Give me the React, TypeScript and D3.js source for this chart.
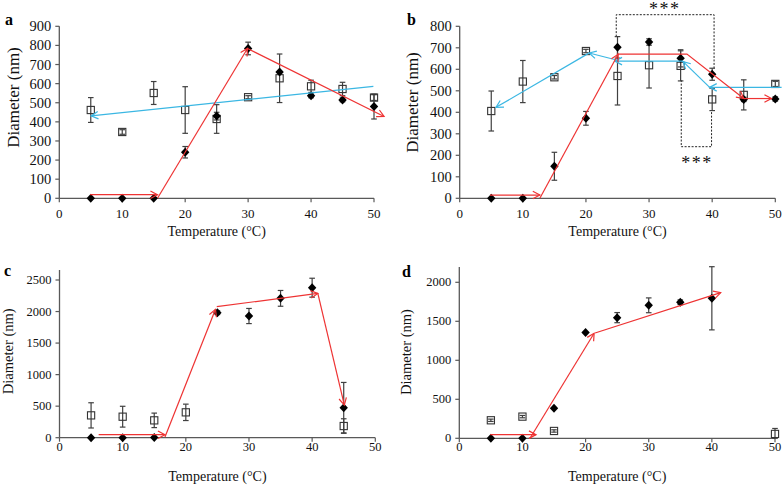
import React from "react";
import * as d3 from "d3";

// ---------- DATA ----------
const TEMPS = [5, 10, 15, 20, 25, 30, 35, 40, 45, 50];
const X_TICKS = [0, 10, 20, 30, 40, 50];

// Panel a
const A_DIAMOND = [0, 0, 0, 241, 430, 784, 661, 536, 515, 480];
const A_DIAMOND_ERR = [0, 0, 0, 30, 20, 33, 0, 10, 10, 65];
const A_SQUARE = [462, 347, 551, 462, 415, 529, 628, 586, 572, 527];
const A_SQUARE_ERR = [65, 12, 60, 122, 75, 8, 127, 32, 35, 15];
const A_RED = [
  [[4.9, 19], [15.6, 19]],
  [[15.6, 0], [29.9, 784]],
  [[29.9, 784], [51.6, 428]],
];
const A_CYAN = [[[49.9, 586], [5.05, 431]]];

// Panel b
const B_DIAMOND = [0, 0, 149, 372, 702, 727, 651, 577, 460, 462];
const B_DIAMOND_ERR = [0, 0, 65, 32, 50, 15, 40, 28, 10, 10];
const B_SQUARE = [406, 543, 563, 685, 569, 619, 616, 460, 481, 532];
const B_SQUARE_ERR = [93, 98, 8, 8, 135, 106, 70, 52, 70, 12];
const B_RED = [
  [[4.8, 15], [12.7, 15]],
  [[12.7, 0], [25.1, 670]],
  [[24.9, 671], [36.0, 671], [45, 464]],
  [[45, 464], [49.4, 464]],
];
const B_CYAN = [
  [[20.4, 674], [5.75, 423]],
  [[25, 642], [20.5, 676]],
  [[35.4, 638], [24.6, 638]],
  [[39.6, 516], [35.4, 636]],
  [[51, 516], [39.6, 516]],
];
const B_BRACKETS = [
  [[24.8, 752], [24.8, 854], [40.3, 854], [40.3, 605]],
  [[35.1, 550], [35.1, 240], [39.9, 240], [39.9, 410]],
];
const B_STARS = [[32.5, 852, "***"], [37.6, 137, "***"]];

// Panel c
const C_DIAMOND = [0, 0, 5, null, 1982, 1929, 2209, 2378, 476, null];
const C_DIAMOND_ERR = [0, 0, 0, 0, 30, 120, 125, 150, 400, 0];
const C_SQUARE = [354, 333, 275, 402, null, null, null, null, 185, null];
const C_SQUARE_ERR = [200, 165, 115, 130, 0, 0, 0, 0, 115, 0];
const C_RED = [
  [[6.2, 48], [16.7, 48]],
  [[16.7, 10], [24.7, 2035]],
  [[24.9, 2077], [40.9, 2288]],
  [[40.9, 2288], [45.1, 518]],
];

// Panel d
const D_DIAMOND = [0, 0, 385, 1355, 1547, 1705, 1744, 1795, null, null];
const D_DIAMOND_ERR = [0, 0, 0, 0, 65, 95, 30, 405, 0, 0];
const D_SQUARE = [231, 278, 94, null, null, null, null, null, null, 56];
const D_SQUARE_ERR = [15, 15, 15, 0, 0, 0, 0, 0, 0, 70];
const D_RED = [
  [[4.9, 47], [12.15, 47]],
  [[11.2, 0], [21.35, 1346]],
  [[21.5, 1350], [41.4, 1868]],
];

// ---------- STYLE / LAYOUT ----------
const FONT = "'Liberation Serif', 'Times New Roman', serif";
const RED = "#ee3333";
const CYAN = "#3bb7e3";
const AXIS = "#595959";
const ERR = "#404040";

type Layout = {
  xr: [number, number];
  yr: [number, number];
  yMax: number;
  step: number;
  axisTop: number;
  letter: [number, number];
  yTitle: [number, number];
  xTitleY: number;
  yTickFont: number;
  xTickFont: number;
  yTitleFont: number;
  xTickDy: number;
};

const LAYOUTS: Record<string, Layout> = {
  a: { xr: [59.3, 374], yr: [198.3, 26.3], yMax: 900, step: 100, axisTop: 26.3, letter: [5, 25], yTitle: [13.3, 97.5], xTitleY: 231, yTickFont: 14.5, xTickFont: 13, yTitleFont: 17, xTickDy: 15 },
  b: { xr: [459.7, 775.3], yr: [198.3, 26.3], yMax: 800, step: 100, axisTop: 26.3, letter: [407, 25], yTitle: [412.7, 102.5], xTitleY: 231, yTickFont: 14.5, xTickFont: 13, yTitleFont: 17, xTickDy: 15 },
  c: { xr: [59.5, 375.3], yr: [437.7, 280], yMax: 2500, step: 500, axisTop: 270, letter: [4, 276], yTitle: [7.5, 351.3], xTitleY: 476, yTickFont: 12.5, xTickFont: 12.5, yTitleFont: 14.5, xTickDy: 9 },
  d: { xr: [459.3, 775], yr: [438.3, 282.3], yMax: 2000, step: 500, axisTop: 267, letter: [402, 277], yTitle: [406, 352], xTitleY: 476, yTickFont: 12.5, xTickFont: 12.5, yTitleFont: 14.5, xTickDy: 9 },
};

function Arrow({ pts, color, x, y }: { pts: number[][]; color: string; x: any; y: any }) {
  const p = pts.map((q) => [x(q[0]), y(q[1])]);
  const line = d3.line()(p as [number, number][]) || "";
  const tip = p[p.length - 1];
  const prev = p[p.length - 2];
  const ang = Math.atan2(tip[1] - prev[1], tip[0] - prev[0]);
  const L = 8;
  const a = (28 * Math.PI) / 180;
  const h1 = [tip[0] - L * Math.cos(ang - a), tip[1] - L * Math.sin(ang - a)];
  const h2 = [tip[0] - L * Math.cos(ang + a), tip[1] - L * Math.sin(ang + a)];
  const head = d3.line()([h1, tip, h2] as [number, number][]) || "";
  return (
    <g fill="none" stroke={color} strokeWidth={1.2}>
      <path d={line} />
      <path d={head} />
    </g>
  );
}

function Panel({
  id,
  diamonds,
  diamondErr,
  squares,
  squareErr,
  red,
  cyan = [],
  brackets = [],
  stars = [],
}: any) {
  const L = LAYOUTS[id];
  const x = d3.scaleLinear().domain([0, 50]).range(L.xr);
  const y = d3.scaleLinear().domain([0, L.yMax]).range(L.yr);
  const yTicks = d3.range(0, L.yMax + 1, L.step);
  const ey = (v: number) => y(Math.max(0, v));

  const errBar = (t: number, v: number, e: number, k: string) => {
    if (v == null || !e) return null;
    const cx = x(t);
    return (
      <g key={k} stroke={ERR} strokeWidth={1.2}>
        <line x1={cx} x2={cx} y1={ey(v - e)} y2={ey(v + e)} />
        <line x1={cx - 2.8} x2={cx + 2.8} y1={ey(v + e)} y2={ey(v + e)} />
        <line x1={cx - 2.8} x2={cx + 2.8} y1={ey(v - e)} y2={ey(v - e)} />
      </g>
    );
  };

  return (
    <g>
      {/* axes */}
      <line x1={L.xr[0]} x2={L.xr[1]} y1={L.yr[0]} y2={L.yr[0]} stroke={AXIS} strokeWidth={1.3} />
      <line x1={L.xr[0]} x2={L.xr[0]} y1={L.yr[0]} y2={L.axisTop} stroke={AXIS} strokeWidth={1.3} />
      {yTicks.map((t) => (
        <g key={"yt" + t}>
          <line x1={L.xr[0] - 4} x2={L.xr[0]} y1={y(t)} y2={y(t)} stroke={AXIS} strokeWidth={1.2} />
          <text x={L.xr[0] - 8} y={y(t)} textAnchor="end" dominantBaseline="central" fontSize={L.yTickFont} fontFamily={FONT} fill="#111">
            {t}
          </text>
        </g>
      ))}
      {X_TICKS.map((t) => (
        <g key={"xt" + t}>
          <line x1={x(t)} x2={x(t)} y1={L.yr[0]} y2={L.yr[0] + 4} stroke={AXIS} strokeWidth={1.2} />
          <text x={x(t)} y={L.yr[0] + L.xTickDy} textAnchor="middle" dominantBaseline="central" fontSize={L.xTickFont} fontFamily={FONT} fill="#111">
            {t}
          </text>
        </g>
      ))}
      <text x={(L.xr[0] + L.xr[1]) / 2} y={L.xTitleY} textAnchor="middle" dominantBaseline="central" fontSize={14} fontFamily={FONT} fill="#111">
        Temperature (°C)
      </text>
      <text
        transform={`translate(${L.yTitle[0]},${L.yTitle[1]}) rotate(-90)`}
        textAnchor="middle"
        dominantBaseline="central"
        fontSize={L.yTitleFont}
        fontFamily={FONT}
        fill="#111"
      >
        Diameter (nm)
      </text>
      <text x={L.letter[0]} y={L.letter[1]} fontSize={16} fontWeight="bold" fontFamily={FONT} fill="#000">
        {id}
      </text>

      {/* brackets */}
      {brackets.map((b: number[][], i: number) => (
        <path
          key={"br" + i}
          d={d3.line()(b.map((q) => [x(q[0]), y(q[1])]) as [number, number][]) || ""}
          fill="none"
          stroke="#222"
          strokeWidth={1}
          strokeDasharray="2,1.5"
        />
      ))}
      {stars.map((s: any[], i: number) => (
        <text key={"st" + i} x={x(s[0])} y={y(s[1])} textAnchor="middle" fontSize={18} letterSpacing={1.5} fontFamily={FONT} fill="#111">
          {s[2]}
        </text>
      ))}

      {/* error bars */}
      {TEMPS.map((t, i) => errBar(t, squares[i], squareErr[i], "se" + i))}
      {TEMPS.map((t, i) => errBar(t, diamonds[i], diamondErr[i], "de" + i))}

      {/* markers */}
      {TEMPS.map((t, i) =>
        squares[i] == null ? null : (
          <rect key={"sq" + i} x={x(t) - 3.6} y={y(squares[i]) - 3.6} width={7.2} height={7.2} fill="none" stroke="#333" strokeWidth={1.1} />
        )
      )}
      {TEMPS.map((t, i) =>
        diamonds[i] == null ? null : (
          <path
            key={"dm" + i}
            transform={`translate(${x(t)},${y(diamonds[i])})`}
            d="M0,-4.5L4.2,0L0,4.5L-4.2,0Z"
            fill="#000"
          />
        )
      )}

      {/* trend arrows */}
      {cyan.map((pts: number[][], i: number) => (
        <Arrow key={"c" + i} pts={pts} color={CYAN} x={x} y={y} />
      ))}
      {red.map((pts: number[][], i: number) => (
        <Arrow key={"r" + i} pts={pts} color={RED} x={x} y={y} />
      ))}
    </g>
  );
}

export default function App() {
  return (
    <div style={{ position: "fixed", left: 0, top: 0, width: 784, height: 486, background: "#fff" }}>
      <svg width={784} height={486} style={{ display: "block" }}>
        <rect width={784} height={486} fill="#fff" />
        <Panel id="a" diamonds={A_DIAMOND} diamondErr={A_DIAMOND_ERR} squares={A_SQUARE} squareErr={A_SQUARE_ERR} red={A_RED} cyan={A_CYAN} />
        <Panel
          id="b"
          diamonds={B_DIAMOND}
          diamondErr={B_DIAMOND_ERR}
          squares={B_SQUARE}
          squareErr={B_SQUARE_ERR}
          red={B_RED}
          cyan={B_CYAN}
          brackets={B_BRACKETS}
          stars={B_STARS}
        />
        <Panel id="c" diamonds={C_DIAMOND} diamondErr={C_DIAMOND_ERR} squares={C_SQUARE} squareErr={C_SQUARE_ERR} red={C_RED} />
        <Panel id="d" diamonds={D_DIAMOND} diamondErr={D_DIAMOND_ERR} squares={D_SQUARE} squareErr={D_SQUARE_ERR} red={D_RED} />
      </svg>
    </div>
  );
}
